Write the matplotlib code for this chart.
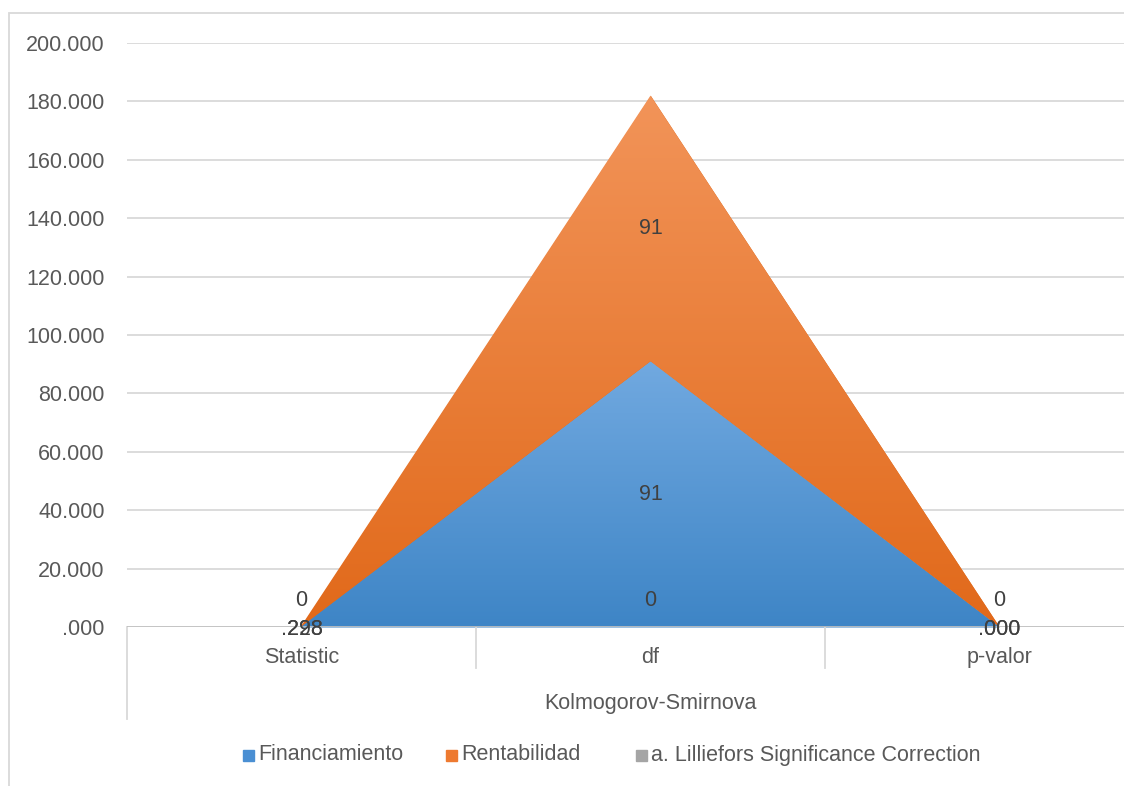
import matplotlib
matplotlib.use("Agg")
from matplotlib import pyplot as plt
from matplotlib.colors import LinearSegmentedColormap
from matplotlib.patches import Rectangle
from matplotlib.lines import Line2D
import numpy as np

categories = ["Statistic", "df", "p-valor"]
group_label = "Kolmogorov-Smirnova"
financiamiento = [0.228, 91, 0.000]
rentabilidad = [0.298, 91, 0.000]
lilliefors = [0, 0, 0]
fin_labels = [".228", "91", ".000"]
ren_labels = [".298", "91", ".000"]
lil_labels = ["0", "0", "0"]
yticks = [0, 20, 40, 60, 80, 100, 120, 140, 160, 180, 200]

plt.rcParams["font.family"] = ["Liberation Sans", "DejaVu Sans"]
txt = "#595959"
lbl = "#404040"
grid = "#d9d9d9"
fs = 15.5

fig = plt.figure(figsize=(11.24, 7.86), dpi=100)
W, H = 1124, 786
ax = fig.add_axes([127 / W, (H - 627) / H, 1047 / W, 584 / H])

x = np.arange(len(categories))
fin = np.array(financiamiento)
ren = np.array(rentabilidad)
top = fin + ren


def gradient_fill(lower, upper, c_top, c_bot, z):
    poly = ax.fill_between(x, lower, upper, color=c_bot, lw=0, zorder=z)
    cmap = LinearSegmentedColormap.from_list("g", [c_bot, c_top])
    grad = np.linspace(0, 1, 256).reshape(-1, 1)
    im = ax.imshow(grad, cmap=cmap, origin="lower", aspect="auto",
                   extent=[x[0], x[-1], 0, upper.max()], zorder=z + 0.1)
    im.set_clip_path(poly.get_paths()[0], transform=ax.transData)


gradient_fill(np.zeros_like(fin), fin, "#71a9e0", "#3e85c6", 2)
gradient_fill(fin, top, "#f29459", "#e1691a", 2)

ax.set_xlim(-0.5, 2.5)
ax.set_ylim(0, 200)
ax.set_yticks(yticks)
ax.set_yticklabels([".000"] + ["%d.000" % v for v in yticks[1:]])
ax.set_xticks([])
for s in ax.spines.values():
    s.set_visible(False)
ax.tick_params(axis="y", length=0, pad=16, labelsize=fs, labelcolor=txt)
for t in yticks[1:]:
    ax.axhline(t, color=grid, lw=1.3, zorder=1)
ax.axhline(0, color="#bfbfbf", lw=2, zorder=3)

# data labels
for i in range(len(categories)):
    ax.annotate(lil_labels[i], (x[i], 0), xytext=(0, 19), textcoords="offset points",
                ha="center", va="center", fontsize=fs, color=lbl, zorder=5)
    if i == 1:
        ax.text(x[i], fin[i] / 2, fin_labels[i], ha="center", va="center",
                fontsize=fs, color=lbl, zorder=5)
        ax.text(x[i], fin[i] + ren[i] / 2, ren_labels[i], ha="center", va="center",
                fontsize=fs, color=lbl, zorder=5)
    else:
        for s in (fin_labels[i], ren_labels[i]):
            ax.annotate(s, (x[i], 0), xytext=(0, -2), textcoords="offset points",
                        ha="center", va="center", fontsize=fs, color=lbl, zorder=5)

# category axis with group row
tr = ax.get_xaxis_transform()
for i, c in enumerate(categories):
    ax.text(x[i], -0.053, c, transform=tr, ha="center", va="center", fontsize=fs, color=txt)
for b in [0.5, 1.5]:
    ax.add_line(Line2D([b, b], [0, -0.07], transform=tr, color=grid, lw=1.3, clip_on=False))
ax.add_line(Line2D([-0.5, -0.5], [0, -0.157], transform=tr, color=grid, lw=1.3, clip_on=False))
ax.text(1, -0.131, group_label, transform=tr, ha="center", va="center", fontsize=fs, color=txt)

# chart border
fig.add_artist(Rectangle((9 / W, -0.1), 1.2, (H - 13) / H + 0.1, transform=fig.transFigure,
                         fill=False, ec=grid, lw=1.3))

# legend
items = [("Financiamiento", "#4a8fd3", 243), ("Rentabilidad", "#ee7a30", 446),
         ("a. Lilliefors Significance Correction", "#a5a5a5", 636)]
for name, col, px in items:
    fig.add_artist(Rectangle((px / W, (H - 761) / H), 11 / W, 11 / H,
                             transform=fig.transFigure, color=col))
    fig.text((px + 15) / W, (H - 755) / H, name, ha="left", va="center",
             fontsize=fs, color=txt)

plt.savefig("out.png", dpi=100)
